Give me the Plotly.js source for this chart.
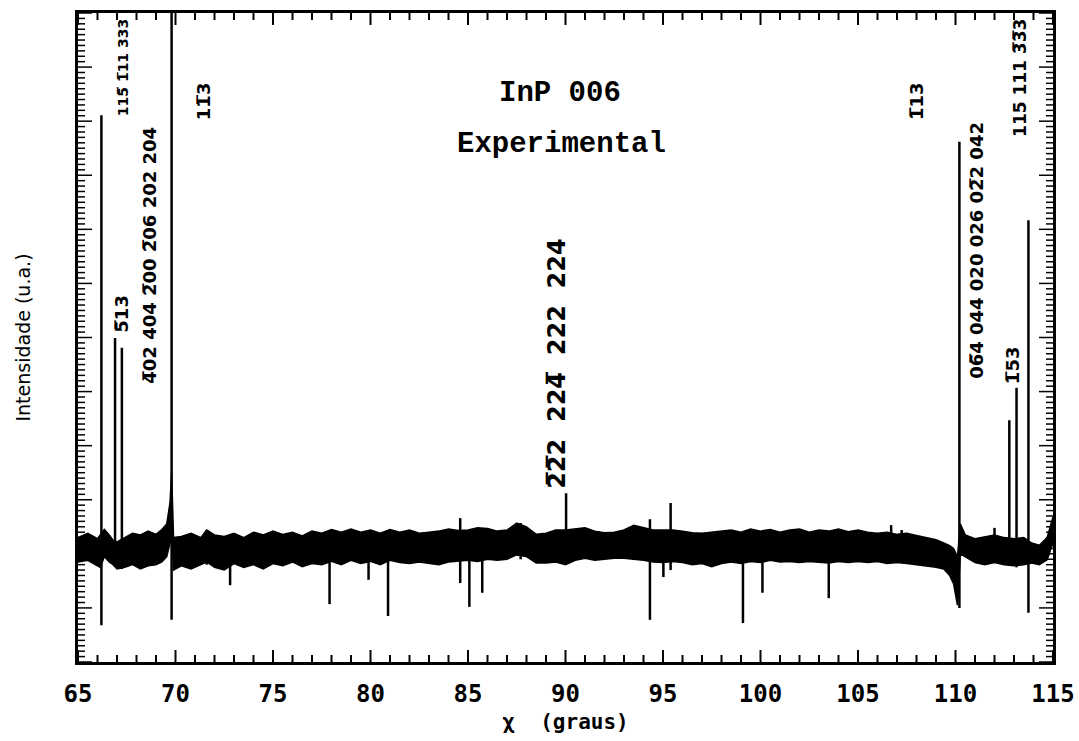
<!DOCTYPE html>
<html>
<head>
<meta charset="utf-8">
<script src="https://cdn.plot.ly/plotly-3.0.1.min.js"></script>
<style>html,body{margin:0;padding:0;background:#fff;}#chart{width:1079px;height:741px;}</style>
</head>
<body>
<div id="chart"></div>
<script>
// Baseline noise band (upper and lower edges)
const envX  = [65.0,65.5,66.0,66.15,66.35,66.6,66.8,67.0,67.4,67.8,68.2,68.6,69.0,69.3,69.55,69.72,69.8,69.9,70.3,70.8,71.3,71.6,72.0,72.5,73.0,73.5,74.0,74.5,75.0,75.5,76.0,76.5,77.0,77.5,78.0,78.5,79.0,79.5,80.0,80.5,81.0,81.5,82.0,82.5,83.0,83.5,84.0,84.5,85.0,85.5,86.0,86.5,87.0,87.5,88.0,88.5,89.0,89.5,90.0,90.5,91.0,91.5,92.0,92.5,93.0,93.5,94.0,94.5,95.0,95.5,96.0,96.5,97.0,97.5,98.0,98.5,99.0,99.5,100.0,100.5,101.0,101.5,102.0,102.5,103.0,103.5,104.0,104.5,105.0,105.5,106.0,106.5,107.0,107.5,108.0,108.5,109.0,109.4,109.7,109.9,110.1,110.25,110.5,111.0,111.5,112.0,112.5,113.0,113.5,113.9,114.3,114.7,115.0];
const envHi = [2.30,2.38,2.28,2.35,2.45,2.35,2.25,2.22,2.30,2.38,2.35,2.42,2.36,2.45,2.55,2.95,3.50,2.30,2.32,2.38,2.30,2.44,2.35,2.32,2.38,2.30,2.40,2.35,2.42,2.36,2.40,2.33,2.42,2.38,2.45,2.40,2.46,2.40,2.44,2.38,2.45,2.40,2.44,2.38,2.40,2.42,2.46,2.43,2.44,2.48,2.47,2.42,2.44,2.57,2.50,2.36,2.38,2.44,2.44,2.46,2.48,2.42,2.39,2.40,2.44,2.53,2.48,2.44,2.44,2.44,2.42,2.39,2.38,2.40,2.42,2.44,2.40,2.46,2.42,2.45,2.40,2.44,2.46,2.40,2.44,2.42,2.46,2.41,2.44,2.40,2.38,2.40,2.36,2.38,2.34,2.30,2.26,2.20,2.15,2.10,1.95,2.55,2.35,2.28,2.32,2.35,2.30,2.28,2.30,2.20,2.16,2.30,2.68];
const envLo = [1.85,1.88,1.78,1.75,1.95,1.85,1.80,1.72,1.75,1.80,1.72,1.78,1.80,1.85,1.95,2.20,2.40,1.70,1.78,1.72,1.80,1.85,1.75,1.70,1.82,1.75,1.80,1.72,1.82,1.78,1.85,1.76,1.82,1.80,1.86,1.80,1.88,1.82,1.86,1.80,1.88,1.84,1.82,1.85,1.83,1.80,1.85,1.86,1.88,1.86,1.90,1.88,1.90,1.98,1.95,1.83,1.83,1.85,1.80,1.88,1.92,1.88,1.90,1.92,1.92,1.90,1.88,1.85,1.84,1.86,1.84,1.80,1.82,1.76,1.82,1.85,1.82,1.86,1.84,1.88,1.85,1.86,1.84,1.86,1.85,1.83,1.86,1.84,1.86,1.84,1.86,1.82,1.84,1.82,1.80,1.78,1.75,1.72,1.60,1.45,1.05,2.00,1.95,1.84,1.80,1.84,1.80,1.78,1.80,1.83,1.80,1.89,2.20];

// Reflections and spikes: position, lowest and highest value
const spikeX  = [66.2,66.9,67.25,69.8,110.2,112.76,113.13,113.74,71.6,72.8,77.9,79.9,80.9,84.6,85.07,85.73,87.7,90.03,94.33,95.02,95.39,99.1,100.1,103.5,106.7,107.24,112.0];
const spikeLo = [0.68,1.76,1.72,0.78,1.00,1.80,1.75,0.91,1.80,1.42,1.07,1.52,0.85,1.46,1.02,1.28,1.90,1.85,0.78,1.57,1.70,0.72,1.28,1.18,1.90,1.90,1.90];
const spikeHi = [10.11,5.99,5.81,13.0,9.62,4.47,5.07,8.17,2.44,2.30,2.30,2.30,2.30,2.66,2.30,2.30,2.57,3.12,2.64,2.30,2.94,2.30,2.30,2.30,2.53,2.44,2.48];

// Reflection labels (Miller indices)
const labelText = ["115\u0305 1\u030511 333","5\u030513","4\u030502 404 2\u030500 2\u030506 202 204","11\u03053","2\u03052\u03052  224\u0305  222  224","1\u030513","06\u03054 044 020 026 02\u03052 042","1\u030553","115 111 3\u03053\u03053"];
const labelX    = [67.31,67.23,68.69,71.41,89.56,107.97,111.10,112.90,113.31];
const labelY    = [10.98,6.45,7.53,10.37,5.53,10.37,7.62,5.49,10.80];
const labelSize = [14,18,18,18,24,18,18,18,17];

const titleLines = ["InP 006","Experimental"];
const titleX = [89.72,89.77];
const titleY = [10.52,9.56];

// build traces
const bandX = envX.concat(envX.slice().reverse());
const bandY = envHi.concat(envLo.slice().reverse());
const band = {x: bandX, y: bandY, type:'scatter', mode:'lines', fill:'toself',
  fillcolor:'#000', line:{color:'#000', width:1.5}, hoverinfo:'skip'};

const sx = [], sy = [];
for (let i = 0; i < spikeX.length; i++) {
  sx.push(spikeX[i], spikeX[i], null);
  sy.push(spikeLo[i], spikeHi[i], null);
}
const spikes = {x: sx, y: sy, type:'scatter', mode:'lines', line:{color:'#000', width:2.5}, hoverinfo:'skip'};

// inward tick marks on all four sides (major every 5 deg / 1 unit, minor every 1 deg / 0.1 unit)
const shapes = [];
for (let v = 65; v <= 115; v++) {
  const len = (v % 5 === 0) ? 12 : 7;
  shapes.push({type:'line', xref:'x', yref:'paper', ysizemode:'pixel', yanchor:0, x0:v, x1:v, y0:0, y1:len, line:{color:'#000', width:2}});
  shapes.push({type:'line', xref:'x', yref:'paper', ysizemode:'pixel', yanchor:1, x0:v, x1:v, y0:0, y1:-len, line:{color:'#000', width:2}});
}
for (let k = 0; k <= 120; k++) {
  const v = k / 10;
  const len = (k % 10 === 0) ? 14 : 7;
  shapes.push({type:'line', xref:'paper', yref:'y', xsizemode:'pixel', xanchor:0, x0:0, x1:len, y0:v, y1:v, line:{color:'#000', width:1.5}});
  shapes.push({type:'line', xref:'paper', yref:'y', xsizemode:'pixel', xanchor:1, x0:0, x1:-len, y0:v, y1:v, line:{color:'#000', width:1.5}});
}

const annotations = [];
for (let i = 0; i < labelText.length; i++) {
  annotations.push({x: labelX[i], y: labelY[i], xref:'x', yref:'y', text: labelText[i],
    showarrow:false, textangle:-90, xanchor:'center', yanchor:'middle',
    font:{family:'DejaVu Sans', size: labelSize[i], color:'#000', weight:'bold'}});
}
for (let i = 0; i < titleLines.length; i++) {
  annotations.push({x: titleX[i], y: titleY[i], xref:'x', yref:'y', text: titleLines[i],
    showarrow:false, xanchor:'center', yanchor:'middle',
    font:{family:'Liberation Mono', size:29, color:'#000', weight:'bold'}});
}

const layout = {
  width:1079, height:741,
  margin:{l:78, r:26, t:13, b:79, pad:0},
  paper_bgcolor:'#fff', plot_bgcolor:'#fff',
  showlegend:false,
  xaxis:{range:[65,115], tickmode:'linear', tick0:65, dtick:5, ticks:'',
    showline:true, linewidth:3, linecolor:'#000', mirror:true,
    showgrid:false, zeroline:false, ticklabelstandoff:8,
    tickfont:{family:'DejaVu Sans Mono', size:24, color:'#000', weight:'bold'},
    title:{text:'\u03c7  (graus)', standoff:8, font:{family:'DejaVu Sans Mono', size:21, color:'#000', weight:'bold'}}},
  yaxis:{range:[0,12], tickmode:'linear', tick0:0, dtick:1, ticks:'',
    showline:true, linewidth:3, linecolor:'#000', mirror:true,
    showgrid:false, zeroline:false, showticklabels:false,
    title:{text:'Intensidade (u.a.)', standoff:40, font:{family:'DejaVu Sans', size:19, color:'#000'}}},
  shapes: shapes,
  annotations: annotations
};

Plotly.newPlot('chart', [band, spikes], layout, {displayModeBar:false, staticPlot:true});
</script>
</body>
</html>
